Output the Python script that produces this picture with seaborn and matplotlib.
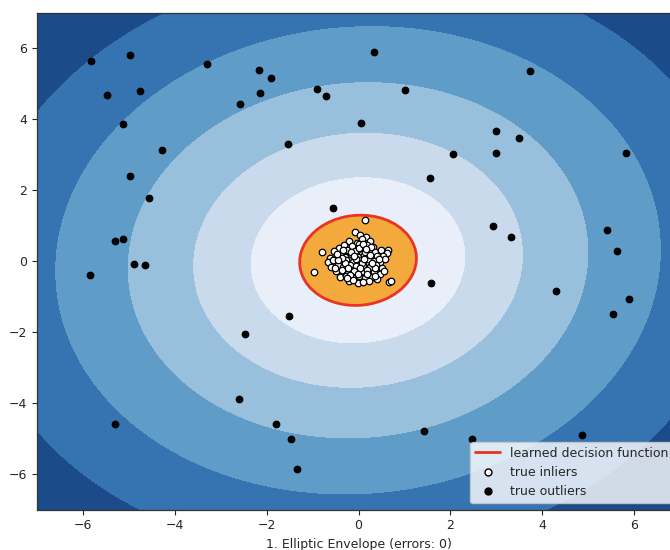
import numpy as np
import matplotlib
matplotlib.use("Agg")
import matplotlib.pyplot as plt
from matplotlib.lines import Line2D
import seaborn as sns

# Outlying observations (x, y)
outlier_x = [-5.83, -4.97, -3.30, -2.17, -1.91, -5.47, -4.75, -2.15, -2.57, -0.91,
             -0.70, -5.12, -4.28, -1.53, -4.97, -4.57, -0.55, -5.30, -5.12, -4.89,
             -4.65, -5.85, -1.51, -2.47, -2.61, -5.31, -1.79, -1.48, -1.33, 0.33,
             3.74, 1.01, 0.05, 3.00, 3.50, 2.06, 3.00, 5.82, 1.56, 2.93,
             3.32, 5.40, 5.62, 1.58, 4.30, 5.88, 5.54, 1.42, 2.48, 4.86]
outlier_y = [5.63, 5.81, 5.56, 5.37, 5.16, 4.68, 4.80, 4.72, 4.41, 4.85,
             4.65, 3.85, 3.12, 3.30, 2.39, 1.77, 1.50, 0.57, 0.62, -0.08,
             -0.10, -0.39, -1.55, -2.07, -3.89, -4.59, -4.59, -5.00, -5.86, 5.89,
             5.34, 4.81, 3.90, 3.66, 3.46, 3.01, 3.04, 3.04, 2.35, 0.99,
             0.68, 0.86, 0.27, -0.61, -0.85, -1.06, -1.49, -4.79, -5.00, -4.89]

# Regular observations (x, y)
inlier_x = [0.15, -0.08, 0.03, 0.17, 0.26, -0.21, 0.07, -0.04,
            -0.79, -0.97, 0.66, 0.70, 0.64, 0.62,
            -0.43, -0.31, -0.14, 0.01, 0.19, 0.31, 0.11, -0.24,
            -0.53, -0.37, -0.07, 0.07, 0.22, 0.37, 0.48, 0.53,
            -0.63, -0.47, -0.29, -0.16, -0.01, 0.13, 0.28, 0.41,
            -0.67, -0.55, -0.41, -0.27, -0.12, 0.03, 0.16, 0.33, 0.46, 0.58,
            -0.59, -0.45, -0.33, -0.19, -0.05, 0.10, 0.24, 0.38, 0.52,
            -0.49, -0.35, -0.23, -0.09, 0.05, 0.19, 0.33, 0.47,
            -0.41, -0.27, -0.13, 0.01, 0.14, 0.29, 0.41,
            -0.21, -0.02, 0.23, 0.09,
            -0.06, 0.08, -0.16, 0.21, -0.30, 0.35, -0.19, 0.14, -0.36, 0.04,
            0.25, -0.22, 0.00, 0.30, -0.10, 0.12, -0.44, 0.44, -0.02, 0.18,
            -0.33, 0.27, -0.52, 0.56, 0.09, -0.11, 0.36, -0.47, 0.17, -0.25]
inlier_y = [1.15, 0.83, 0.74, 0.68, 0.56, 0.57, 0.61, 0.52,
            0.24, -0.30, -0.58, -0.55, 0.31, 0.22,
            0.38, 0.45, 0.41, 0.47, 0.44, 0.39, 0.35, 0.31,
            0.27, 0.22, 0.27, 0.21, 0.29, 0.25, 0.31, 0.13,
            0.09, 0.14, 0.12, 0.19, 0.11, 0.16, 0.09, 0.15,
            -0.04, 0.02, -0.05, 0.04, -0.02, 0.03, -0.04, 0.01, -0.03, 0.05,
            -0.16, -0.11, -0.18, -0.12, -0.15, -0.11, -0.17, -0.12, -0.19,
            -0.29, -0.26, -0.33, -0.28, -0.31, -0.26, -0.32, -0.36,
            -0.44, -0.41, -0.48, -0.43, -0.49, -0.45, -0.52,
            -0.57, -0.61, -0.56, -0.58,
            0.07, -0.07, 0.24, 0.06, -0.07, -0.21, -0.39, 0.26, 0.09, -0.21,
            0.18, -0.20, 0.36, -0.05, 0.14, 0.05, 0.03, 0.06, -0.38, -0.37,
            0.31, 0.40, -0.21, -0.27, 0.49, -0.53, -0.41, 0.21, 0.34, -0.49]

# Robust location / covariance of the fitted envelope and its boundary radius
center = [-0.01, 0.02]
covariance = [[0.09, 0.00405], [0.00405, 0.09]]
boundary_radius = 1.27
n_errors = 0

# Fill colours of the six score bands (outermost first) and of the inlier region
band_colors = ["#1c4b89", "#3673b1", "#5f9cc8", "#98c0dc", "#c9daec", "#e8eff8"]
inside_color = "#f3a93c"
boundary_color = "#ea3323"

sns.set_style("ticks")
plt.rcParams["font.family"] = ["DejaVu Sans"]

fig = plt.figure(figsize=(6.7, 5.5), dpi=100)
ax = fig.add_axes([37 / 670, 1 - 509.5 / 550, 643 / 670, 497 / 550])

precision = np.linalg.inv(np.array(covariance))


def decision(px, py):
    dx = px - center[0]
    dy = py - center[1]
    d2 = precision[0, 0] * dx * dx + 2 * precision[0, 1] * dx * dy + precision[1, 1] * dy * dy
    return -(d2 ** 0.33)


xx, yy = np.meshgrid(np.linspace(-7, 7, 100), np.linspace(-7, 7, 100))
Z = decision(xx, yy)
threshold = decision(center[0] + boundary_radius, center[1])

ax.contourf(xx, yy, Z, levels=np.linspace(Z.min(), threshold, 7), colors=band_colors)
ax.contour(xx, yy, Z, levels=[threshold], linewidths=2.0, colors=boundary_color,
           linestyles="solid")
ax.contourf(xx, yy, Z, levels=[threshold, Z.max()], colors=inside_color)

sns.scatterplot(x=inlier_x, y=inlier_y, ax=ax, color="white", edgecolor="k",
                s=22, linewidth=0.9, zorder=3)
sns.scatterplot(x=outlier_x, y=outlier_y, ax=ax, color="black", edgecolor="k",
                s=22, linewidth=0.9, zorder=3)

ax.set_xlim(-7, 7)
ax.set_ylim(-7, 7)
ax.tick_params(labelsize=9, colors="0.15")
for sp in ax.spines.values():
    sp.set_color("0.2")
    sp.set_linewidth(0.9)

handles = [
    Line2D([], [], color=boundary_color, lw=2.0),
    Line2D([], [], marker="o", ls="", markerfacecolor="white", markeredgecolor="k", markersize=5),
    Line2D([], [], marker="o", ls="", markerfacecolor="black", markeredgecolor="k", markersize=5),
]
ax.legend(handles, ["learned decision function", "true inliers", "true outliers"],
          loc="lower right", fontsize=9, framealpha=0.8)
ax.set_xlabel("1. Elliptic Envelope (errors: %d)" % n_errors, fontsize=9)

fig.savefig("out.png", dpi=100)
